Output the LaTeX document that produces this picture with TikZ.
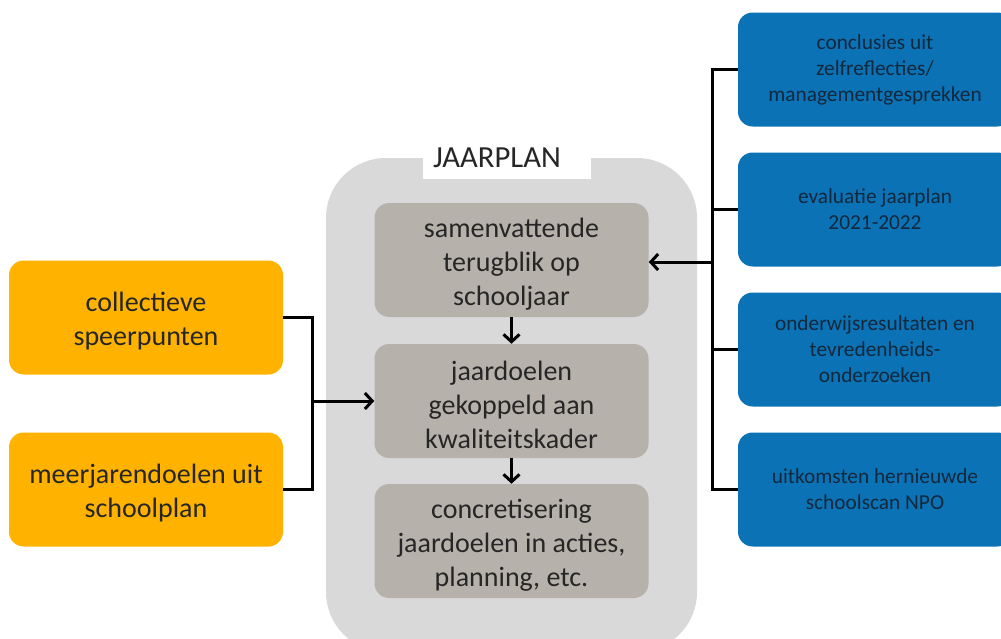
\documentclass[tikz,border=0pt]{standalone}
\usepackage{fontspec}
\setmainfont{Carlito}
\usetikzlibrary{arrows.meta}
\definecolor{orng}{HTML}{FFB300}
\definecolor{blu}{HTML}{0B72B5}
\definecolor{innergrey}{HTML}{B6B1AB}
\definecolor{outergrey}{HTML}{D9D9D9}
\definecolor{txt}{HTML}{262626}
\definecolor{blutxt}{HTML}{12283C}
\newcommand{\tp}{\rule{0pt}{20.5pt}}
\begin{document}
\begin{tikzpicture}[x=0.75pt,y=-0.75pt,
 box/.style={rectangle, rounded corners=11pt, minimum width=205.5pt, minimum height=85.5pt, align=center, inner sep=0pt, font=\fontsize{21}{25.5}\selectfont, text=txt},
 stepbox/.style={box, fill=innergrey},
 srcbox/.style={box, fill=orng},
 infobox/.style={box, fill=blu, text=blutxt, font=\fontsize{16}{19.5}\selectfont},
 conn/.style={line width=2.25pt, draw=black},
 arr/.style={conn, -{Straight Barb[length=5.5pt,width=12pt]}}]
\useasboundingbox (0,0) rectangle (1001,639);
\clip (0,0) rectangle (1001,639);
% container
\fill[outergrey, rounded corners=45pt] (326,158) rectangle (697,652);
\fill[white] (423,130) rectangle (591,179);
\node[inner sep=0pt, text=txt, font=\fontsize{23}{27}\selectfont] (title) at (497,158) {JAARPLAN};
% inner steps
\node[stepbox] (b1) at (511.5,260) {\tp samenvattende\\terugblik op\\schooljaar};
\node[stepbox] (b2) at (511.5,401) {\tp jaardoelen\\gekoppeld aan\\kwaliteitskader};
\node[stepbox] (b3) at (511.5,541) {\tp concretisering\\jaardoelen in acties,\\planning, etc.};
% sources left
\node[srcbox] (oa) at (146,317.5) {\tp collectieve\\speerpunten};
\node[srcbox] (ob) at (146,489.5) {\tp meerjarendoelen uit\\schoolplan};
% info right
\node[infobox] (i1) at (875,69.5) {conclusies uit\\zelfreflecties/\\managementgesprekken};
\node[infobox] (i2) at (875,209.5) {evaluatie jaarplan\\2021-2022};
\node[infobox] (i3) at (875,349.5) {onderwijsresultaten en\\tevredenheids-\\onderzoeken};
\node[infobox] (i4) at (875,489.5) {uitkomsten hernieuwde\\schoolscan NPO};
% connectors
\draw[arr] (b1.south) -- (b2.north);
\draw[arr] (b2.south) -- (b3.north);
\coordinate (lj) at (312,401);
\draw[conn] (oa.east) -| (lj);
\draw[conn] (ob.east) -| (lj);
\draw[arr] (lj) -- (b2.west);
\coordinate (rj) at (712,262);
\draw[conn] (i1.west) -| (rj);
\draw[conn] (i2.west) -| (rj);
\draw[conn] (i3.west) -| (rj);
\draw[conn] (i4.west) -| (rj);
\draw[arr] (rj) -- (rj -| b1.east);
\end{tikzpicture}
\end{document}
